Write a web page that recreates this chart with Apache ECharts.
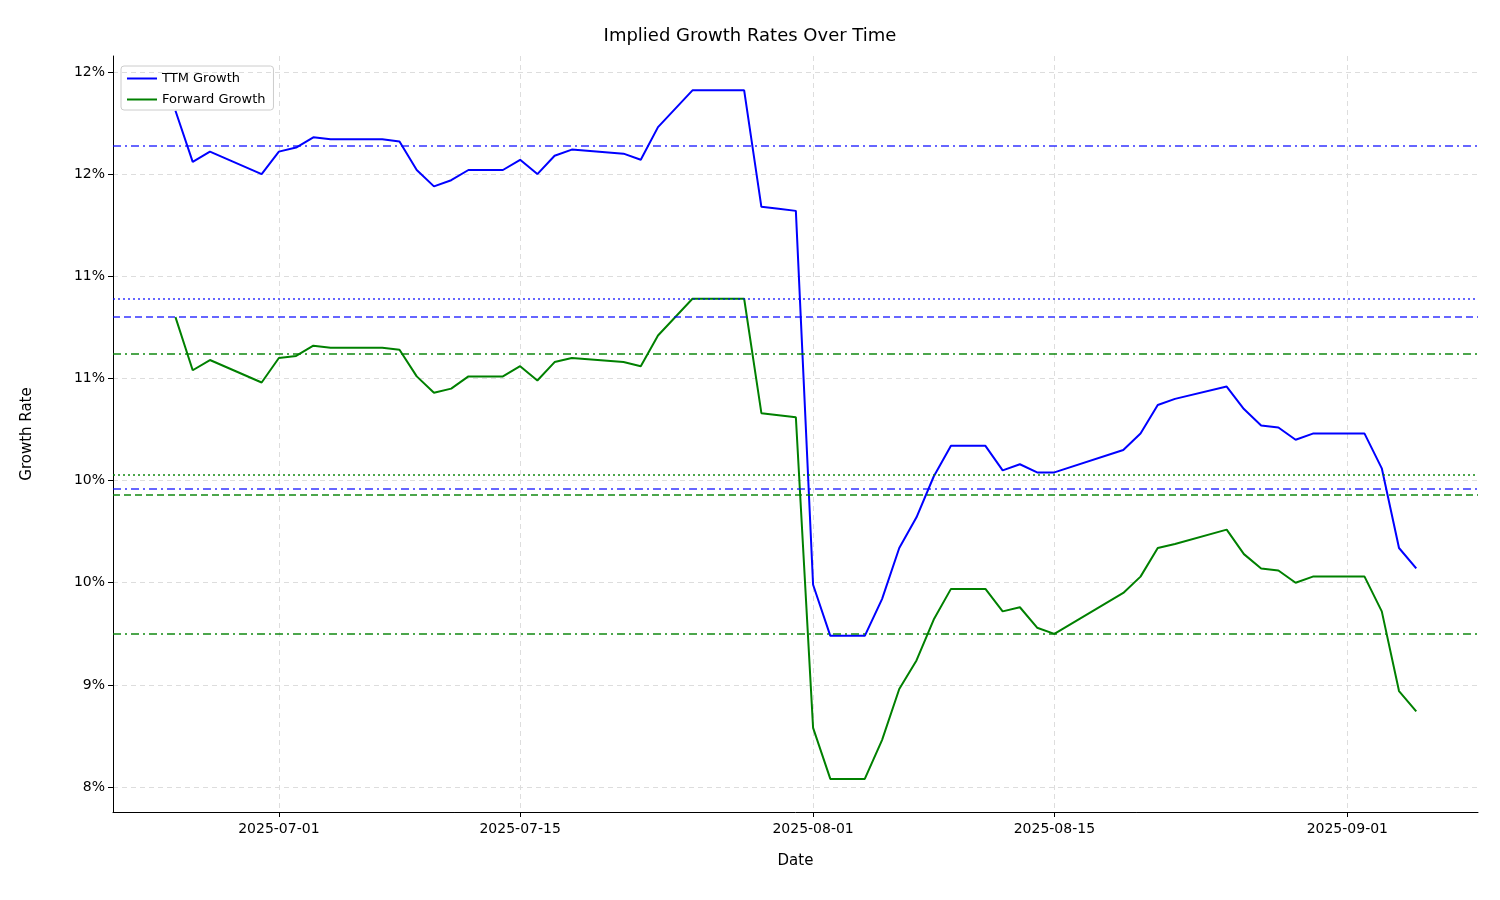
<!DOCTYPE html>
<html><head><meta charset="utf-8">
<script src="https://cdn.jsdelivr.net/npm/echarts@6/dist/echarts.min.js"></script>
<style>html,body{margin:0;padding:0;background:#fff}#c{width:1500px;height:900px}</style>
</head><body><div id="c"></div>
<script>
const dates = ['2025-06-25','2025-06-26','2025-06-27','2025-06-30','2025-07-01','2025-07-02','2025-07-03','2025-07-04','2025-07-07','2025-07-08','2025-07-09','2025-07-10','2025-07-11','2025-07-12','2025-07-14','2025-07-15','2025-07-16','2025-07-17','2025-07-18','2025-07-21','2025-07-22','2025-07-23','2025-07-25','2025-07-28','2025-07-29','2025-07-30','2025-07-31','2025-08-01','2025-08-02','2025-08-03','2025-08-04','2025-08-05','2025-08-06','2025-08-07','2025-08-08','2025-08-09','2025-08-10','2025-08-11','2025-08-12','2025-08-13','2025-08-14','2025-08-15','2025-08-19','2025-08-20','2025-08-21','2025-08-22','2025-08-25','2025-08-26','2025-08-27','2025-08-28','2025-08-29','2025-08-30','2025-09-02','2025-09-03','2025-09-04','2025-09-05'];
const ttmGrowth = [11.81,11.56,11.61,11.50,11.61,11.63,11.68,11.67,11.67,11.66,11.52,11.44,11.47,11.52,11.52,11.57,11.50,11.59,11.62,11.60,11.57,11.73,11.91,11.91,11.34,11.33,11.32,9.49,9.24,9.24,9.24,9.42,9.67,9.82,10.02,10.17,10.17,10.17,10.05,10.08,10.04,10.04,10.15,10.23,10.37,10.40,10.46,10.35,10.27,10.26,10.20,10.23,10.23,10.06,9.67,9.57];
const fwdGrowth = [10.80,10.54,10.59,10.48,10.60,10.61,10.66,10.65,10.65,10.64,10.51,10.43,10.45,10.51,10.51,10.56,10.49,10.58,10.60,10.58,10.56,10.71,10.89,10.89,10.33,10.32,10.31,8.79,8.54,8.54,8.54,8.73,8.98,9.12,9.32,9.47,9.47,9.47,9.36,9.38,9.28,9.25,9.45,9.53,9.67,9.69,9.76,9.64,9.57,9.56,9.50,9.53,9.53,9.36,8.97,8.87];
const ttmRefLines = [{v:11.64,t:[8,4,2,4]},{v:10.89,t:[2,3]},{v:10.80,t:[7,4]},{v:9.96,t:[8,4,2,4]}];
const fwdRefLines = [{v:10.62,t:[8,4,2,4]},{v:10.03,t:[2,3]},{v:9.93,t:[7,4]},{v:9.25,t:[8,4,2,4]}];
const yTickValues = [8.5,9.0,9.5,10.0,10.5,11.0,11.5,12.0];
const yTickLabels = ['8%','9%','10%','10%','11%','11%','12%','12%'];
const xTickDates = ['2025-07-01','2025-07-15','2025-08-01','2025-08-15','2025-09-01'];

const ts = d => Date.parse(d + 'T00:00:00Z');
const mk = (lines, color, op) => lines.map(l => ({yAxis:l.v, lineStyle:{color, opacity:op, width:2, type:l.t}}));
const chart = echarts.init(document.getElementById('c'));
const font = 'DejaVu Sans';
const grid = {show:true, lineStyle:{color:'#ddd', type:[5,4]}};
chart.setOption({
  animation: false,
  textStyle:{fontFamily:font},
  title:{text:'Implied Growth Rates Over Time', left:'center', top:22, textStyle:{fontSize:18, fontWeight:'normal', color:'#000', fontFamily:font}},
  legend:{left:121, top:66, orient:'vertical', itemWidth:30, itemHeight:2, itemGap:8, borderColor:'#ccc', borderWidth:1, borderRadius:3, padding:[6,8,4,6],
    textStyle:{fontSize:13, color:'#000'}, data:[{name:'TTM Growth', icon:'rect'},{name:'Forward Growth', icon:'rect'}]},
  grid:{left:113, right:22, top:56, bottom:88},
  xAxis:{type:'value', min:ts('2025-06-21')+9*3600e3, max:ts('2025-09-08')+14*3600e3,
    name:'Date', nameLocation:'middle', nameGap:42, nameTextStyle:{fontSize:15, color:'#000'},
    axisLine:{onZero:false, lineStyle:{color:'#000'}}, axisTick:{customValues:xTickDates.map(ts), lineStyle:{color:'#000'}},
    axisLabel:{customValues:xTickDates.map(ts), fontSize:14, color:'#000', margin:10, formatter:v=>new Date(v).toISOString().slice(0,10)},
    splitLine:grid},
  yAxis:{type:'value', min:8.378, max:12.078,
    name:'Growth Rate', nameLocation:'middle', nameGap:78, nameTextStyle:{fontSize:15, color:'#000'},
    axisLine:{show:true, onZero:false, lineStyle:{color:'#000'}}, axisTick:{show:true, customValues:yTickValues, lineStyle:{color:'#000'}},
    axisLabel:{customValues:yTickValues, fontSize:14, color:'#000', formatter:v=>{const i=yTickValues.findIndex(t=>Math.abs(t-v)<1e-6);return i<0?'':yTickLabels[i];}},
    splitLine:grid},
  series:[
    {name:'TTM Growth', type:'line', color:'#0000ff', showSymbol:false, lineStyle:{width:2}, data:dates.map((d,i)=>[ts(d),ttmGrowth[i]]),
      markLine:{silent:true, symbol:'none', label:{show:false}, data:mk(ttmRefLines, '#0000ff', 0.6)}},
    {name:'Forward Growth', type:'line', color:'#008000', showSymbol:false, lineStyle:{width:2}, data:dates.map((d,i)=>[ts(d),fwdGrowth[i]]),
      markLine:{silent:true, symbol:'none', label:{show:false}, data:mk(fwdRefLines, '#008000', 0.7)}}
  ]
});
</script></body></html>
